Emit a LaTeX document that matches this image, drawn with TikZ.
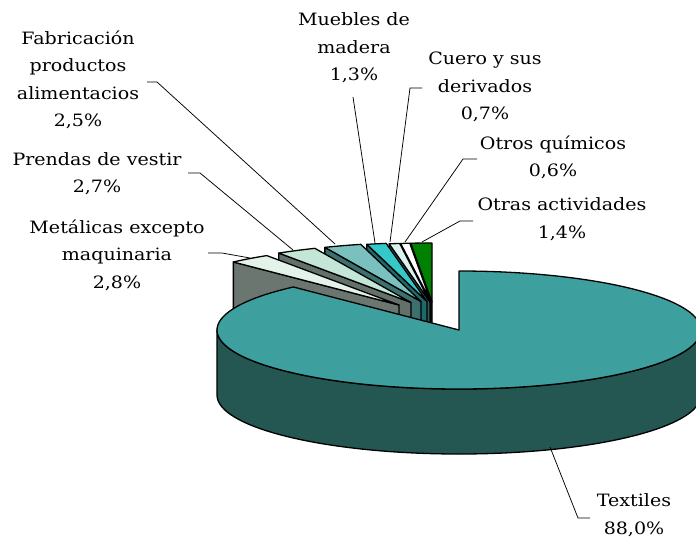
\documentclass[tikz,border=0pt]{standalone}
\usepackage{fontspec}
\setmainfont{DejaVu Serif}[FakeStretch=1.12]
\usetikzlibrary{calc}
\definecolor{texTop}{RGB}{62,160,158}
\definecolor{texSide}{RGB}{36,86,82}
\definecolor{metTop}{RGB}{228,243,234}
\definecolor{metSide}{RGB}{108,118,112}
\definecolor{preTop}{RGB}{196,230,214}
\definecolor{preSide}{RGB}{100,112,106}
\definecolor{fabTop}{RGB}{122,192,190}
\definecolor{fabSide}{RGB}{60,112,110}
\definecolor{mueTop}{RGB}{52,200,200}
\definecolor{mueSide}{RGB}{30,105,105}
\definecolor{cueTop}{RGB}{220,242,242}
\definecolor{cueSide}{RGB}{60,90,90}
\definecolor{otqTop}{RGB}{255,255,255}
\definecolor{otqSide}{RGB}{40,40,40}
\definecolor{otaTop}{RGB}{0,128,0}
\definecolor{otaSide}{RGB}{0,70,0}
\tikzset{
  edge/.style={draw=black,line width=1.3pt,line join=round},
  leader/.style={draw=black,line width=0.75pt},
  lbl/.style={align=center,font=\fontsize{17}{27.5}\selectfont,inner sep=0pt}
}
% #1 cx, #2 cy, #3 start angle, #4 end angle, #5 top colour, #6 side colour
\newcommand\pieslice[6]{%
  \path[edge,fill=#6] (#1,#2) -- ($(#1,#2)+(#4:242pt and 59pt)$) -- ++(0,65)
     -- (#1,#2+65) -- cycle;
  \path[edge,fill=#5] (#1,#2) -- ($(#1,#2)+(#3:242pt and 59pt)$)
     arc[start angle=#3,end angle=#4,x radius=242pt,y radius=59pt] -- cycle;
}
\begin{document}
\begin{tikzpicture}[x=1pt,y=-1pt]
\useasboundingbox (0,0) rectangle (696,538);
\clip (0,0) rectangle (696,538);
% small exploded slices, back to front
\pieslice{432}{302}{90}{95.04}{otaTop}{otaSide}
\pieslice{431}{302}{95.04}{97.2}{otqTop}{otqSide}
\pieslice{430}{302}{97.2}{99.72}{cueTop}{cueSide}
\pieslice{427}{301.5}{99.72}{104.4}{mueTop}{mueSide}
\pieslice{421}{301.5}{104.4}{113.4}{fabTop}{fabSide}
\pieslice{411}{302.5}{113.4}{123.12}{preTop}{preSide}
\pieslice{399}{305}{123.12}{133.2}{metTop}{metSide}
% Textiles slice
\coordinate (T) at (459,330);
\path[edge,fill=texSide] ($(T)+(180:242pt and 59pt)$)
   arc[start angle=180,end angle=360,x radius=242pt,y radius=59pt] -- ++(0,65)
   arc[start angle=360,end angle=180,x radius=242pt,y radius=59pt] -- cycle;
\path[edge,fill=texTop] (T) -- ($(T)+(133.2:242pt and 59pt)$)
   arc[start angle=133.2,end angle=450,x radius=242pt,y radius=59pt] -- cycle;
% labels
\node[lbl] (mue) at (354,48) {Muebles de\\madera\\1,3\%};
\node[lbl] (cue) at (485,87) {Cuero y sus\\derivados\\0,7\%};
\node[lbl] (otq) at (553,157.5) {Otros químicos\\0,6\%};
\node[lbl] (ota) at (562,219) {Otras actividades\\1,4\%};
\node[lbl] (fab) at (78,80) {Fabricación\\productos\\alimentacios\\2,5\%};
\node[lbl] (pre) at (97,173.5) {Prendas de vestir\\2,7\%};
\node[lbl] (met) at (117,255) {Metálicas excepto\\maquinaria\\2,8\%};
\node[lbl] (tex) at (634,515) {Textiles\\88,0\%};
% leader lines
\coordinate (fabA) at (147,82);  \coordinate (fabB) at (157,82);  \coordinate (fabC) at (335,244);
\coordinate (preA) at (188,173); \coordinate (preB) at (200,173); \coordinate (preC) at (293,250);
\coordinate (metA) at (208,253); \coordinate (metB) at (222,253); \coordinate (metC) at (250,258);
\coordinate (mueA) at (353,97);  \coordinate (mueC) at (375,243);
\coordinate (cueA) at (422,88);  \coordinate (cueB) at (410,88);  \coordinate (cueC) at (390,242);
\coordinate (otqA) at (477,159); \coordinate (otqB) at (463,159); \coordinate (otqC) at (405,242);
\coordinate (otaA) at (473,221); \coordinate (otaB) at (460,221); \coordinate (otaC) at (422,242);
\coordinate (texA) at (590,518); \coordinate (texB) at (578,518); \coordinate (texC) at (550,447);
\path[leader] (fabA) -- (fabB) -- (fabC);
\path[leader] (preA) -- (preB) -- (preC);
\path[leader] (metA) -- (metB) -- (metC);
\path[leader] (mueA) -- (mueC);
\path[leader] (cueA) -- (cueB) -- (cueC);
\path[leader] (otqA) -- (otqB) -- (otqC);
\path[leader] (otaA) -- (otaB) -- (otaC);
\path[leader] (texA) -- (texB) -- (texC);
\end{tikzpicture}
\end{document}
